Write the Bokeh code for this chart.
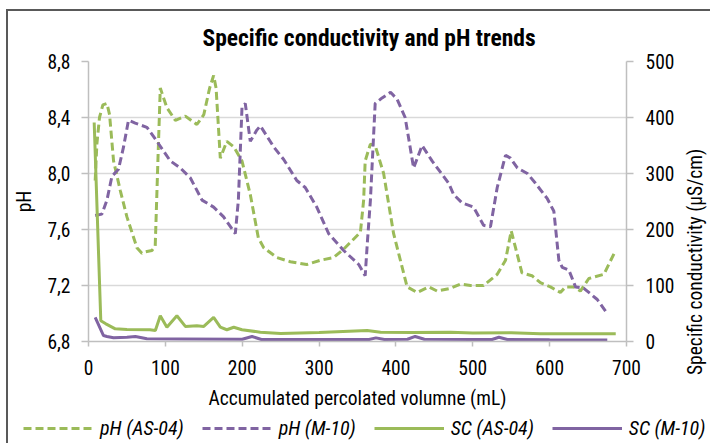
from bokeh.plotting import figure
from bokeh.models import (Range1d, LinearAxis, FixedTicker, CustomJSTickFormatter,
                          Legend, LegendItem, Title, Spacer, Div)
from bokeh.layouts import column, row
from bokeh.embed import file_html
from bokeh.resources import INLINE

# ---------------- data ----------------
title_text = "Specific conductivity and pH trends"
x_label = "Accumulated percolated volumne (mL)"
ph_label = "pH"
sc_label = "Specific conductivity (\u00b5S/cm)"

x_ticks = [0, 100, 200, 300, 400, 500, 600, 700]
ph_ticks = [6.8, 7.2, 7.6, 8.0, 8.4, 8.8]
sc_ticks = [0, 100, 200, 300, 400, 500]

ph_as04_x = [8.7, 10.9, 14.3, 18.7, 24, 27.4, 32.6, 41.3, 50, 63, 69.5, 74, 82.5, 86.8, 90.3,
             93.4, 102, 113, 126, 141, 150, 157.6, 162.8, 166, 171.5, 180, 189, 199.7, 210.5,
             221, 228, 245, 262.6, 284, 301.7, 319, 332, 353.8, 358, 360, 366.8, 373, 384, 397,
             414.6, 427.6, 442.7, 453.6, 471, 484, 497, 514, 531.8, 542.6, 550, 555.6, 564, 577,
             588, 601, 614, 620.7, 631.5, 640, 651, 670.6, 685.8]
ph_as04 = [7.95, 8.21, 8.40, 8.49, 8.50, 8.42, 8.09, 7.88, 7.69, 7.47, 7.43, 7.44, 7.45, 7.48, 8.09,
           8.61, 8.47, 8.38, 8.41, 8.35, 8.42, 8.61, 8.70, 8.61, 8.11, 8.23, 8.19, 8.09, 7.85,
           7.54, 7.47, 7.40, 7.37, 7.35, 7.38, 7.40, 7.46, 7.58, 7.81, 8.09, 8.21, 8.20, 8.00, 7.57,
           7.19, 7.15, 7.19, 7.16, 7.18, 7.21, 7.20, 7.20, 7.28, 7.38, 7.59, 7.47, 7.29, 7.27,
           7.22, 7.19, 7.15, 7.19, 7.19, 7.16, 7.25, 7.28, 7.45]

ph_m10_x = [8.7, 17.4, 24, 30.5, 39, 45.6, 52, 60.8, 76, 89, 106.4, 119.4, 132.4, 147.7, 162.8,
            175.8, 191, 195, 199.7, 204, 210.5, 219, 223.6, 241, 254, 271, 282, 297, 312.5, 332,
            351.6, 360, 363, 366.8, 373, 382, 393, 401.6, 412, 423, 434, 447, 468.7, 475, 486,
            501, 514, 523, 531.8, 542.6, 549, 558, 571, 581.6, 597, 605.5, 612, 616.4, 625,
            633.7, 644.5, 662, 675]
ph_m10 = [7.70, 7.71, 7.81, 7.98, 8.03, 8.19, 8.38, 8.36, 8.33, 8.23, 8.09, 8.04, 7.97, 7.81, 7.76,
          7.69, 7.57, 7.81, 8.47, 8.50, 8.23, 8.31, 8.34, 8.19, 8.10, 7.95, 7.90, 7.76, 7.57, 7.45,
          7.35, 7.27, 7.52, 7.81, 8.50, 8.54, 8.58, 8.53, 8.40, 8.04, 8.20, 8.09, 7.93, 7.85, 7.79,
          7.76, 7.63, 7.62, 7.90, 8.13, 8.11, 8.04, 8.00, 7.93, 7.82, 7.73, 7.38, 7.33, 7.31,
          7.19, 7.18, 7.10, 7.00]

sc_as04_x = [7.4, 16, 22, 34.8, 50, 80, 87, 93.4, 102, 115, 126, 141, 150, 162.8, 171.5, 180, 189,
             199.7, 223.6, 250, 300, 362.5, 380, 420, 471, 500, 550, 588, 640, 686]
sc_as04 = [391, 37, 32, 22.6, 21.4, 21, 19.6, 46, 25.5, 46, 27, 28, 27, 43, 25.5, 21, 25.5,
           21, 16.6, 14.5, 16, 19.6, 16.5, 16, 16.6, 15, 15.5, 13.7, 14, 13.7]

sc_m10_x = [8.7, 19.5, 24, 32.6, 50, 61, 76, 120, 200, 212.8, 225, 300, 365, 374, 385, 415, 425,
            437, 500, 525, 534, 545, 600, 675]
sc_m10 = [43, 10.7, 9, 6.6, 7.7, 9, 4.8, 4.5, 4, 9, 3.5, 3.5, 3.5, 6.5, 3.5, 4, 9,
          4, 3.5, 3.5, 7.6, 3.5, 3, 2.5]

series_names = ["pH (AS-04)", "pH (M-10)", "SC (AS-04)", "SC (M-10)"]

# ---------------- style ----------------
GREEN = "#9BBB59"
PURPLE = "#8064A2"
AXIS_GRAY = "#BFBFBF"
GRID_GRAY = "#D9D9D9"
BORDER = "#595959"
FONT = "'Roboto Condensed', 'Liberation Sans Narrow', 'Arial Narrow', sans-serif"
DASH = "8 4"

# ---------------- main chart ----------------
p = figure(width=676, height=402, output_backend="svg", toolbar_location=None,
           x_range=Range1d(0, 700), y_range=Range1d(6.8, 8.8),
           min_border_left=80, min_border_right=58, min_border_top=50, min_border_bottom=72)
p.extra_y_ranges = {"sc": Range1d(0, 500)}
p.outline_line_color = None
p.background_fill_color = "white"
p.border_fill_color = "white"

p.title = Title(text=title_text, align="left", offset=114, standoff=20, text_font=FONT,
                text_font_size="23.5px", text_font_style="bold", text_color="#000000")

r1 = p.line(ph_as04_x, ph_as04, line_color=GREEN, line_width=3, line_dash=DASH)
r2 = p.line(ph_m10_x, ph_m10, line_color=PURPLE, line_width=3, line_dash=DASH)
r3 = p.line(sc_as04_x, sc_as04, line_color=GREEN, line_width=3, y_range_name="sc")
r4 = p.line(sc_m10_x, sc_m10, line_color=PURPLE, line_width=3, y_range_name="sc")

p.xgrid.visible = False
p.ygrid.ticker = FixedTicker(ticks=ph_ticks)
p.ygrid.grid_line_color = GRID_GRAY
p.ygrid.grid_line_width = 1.5


def style_axis(ax):
    ax.axis_line_color = AXIS_GRAY
    ax.axis_line_width = 1.5
    ax.major_tick_line_color = AXIS_GRAY
    ax.major_tick_line_width = 1.5
    ax.major_tick_in = 0
    ax.minor_tick_line_color = None
    ax.major_label_text_font = FONT
    ax.major_label_text_font_size = "19.5px"
    ax.major_label_text_color = "#000000"
    ax.axis_label_text_font = FONT
    ax.axis_label_text_font_size = "19.5px"
    ax.axis_label_text_font_style = "normal"
    ax.axis_label_text_color = "#000000"


xa = p.xaxis[0]
style_axis(xa)
xa.ticker = FixedTicker(ticks=x_ticks)
xa.major_tick_out = 5
xa.major_label_standoff = 13
xa.axis_label = x_label
xa.axis_label_standoff = 9

ya = p.yaxis[0]
style_axis(ya)
ya.ticker = FixedTicker(ticks=ph_ticks)
ya.formatter = CustomJSTickFormatter(code="return tick.toFixed(1).replace('.', ',');")
ya.major_tick_out = 7
ya.major_label_standoff = 11
ya.axis_label = ph_label
ya.axis_label_standoff = 8

ra = LinearAxis(y_range_name="sc", ticker=FixedTicker(ticks=sc_ticks))
style_axis(ra)
ra.major_tick_out = 7
ra.major_label_standoff = 12
p.add_layout(ra, "right")

# right axis title, reading bottom-to-top
right_title = Div(text=sc_label, width=26, height=402, margin=0,
                  styles={"writing-mode": "vertical-rl", "transform": "rotate(180deg)",
                          "font-family": FONT, "font-size": "19.5px", "color": "#000000",
                          "padding-top": "38px", "box-sizing": "border-box",
                          "line-height": "24px", "white-space": "nowrap",
                          "background-color": "white"})

# ---------------- legend strip ----------------
pl = figure(width=702, height=30, output_backend="svg", toolbar_location=None,
            x_range=Range1d(0, 702), y_range=Range1d(1000, 1030),
            x_axis_type=None, y_axis_type=None,
            min_border_left=0, min_border_right=0, min_border_top=0, min_border_bottom=0)
pl.outline_line_color = None
pl.grid.visible = False
pl.background_fill_color = "white"
pl.border_fill_color = "white"
k1 = pl.line(ph_as04_x, ph_as04, line_color=GREEN, line_width=3, line_dash=DASH)
k2 = pl.line(ph_m10_x, ph_m10, line_color=PURPLE, line_width=3, line_dash=DASH)
k3 = pl.line(sc_as04_x, sc_as04, line_color=GREEN, line_width=3)
k4 = pl.line(sc_m10_x, sc_m10, line_color=PURPLE, line_width=3)

legend = Legend(items=[LegendItem(label=series_names[0], renderers=[k1]),
                       LegendItem(label=series_names[1], renderers=[k2]),
                       LegendItem(label=series_names[2], renderers=[k3]),
                       LegendItem(label=series_names[3], renderers=[k4])],
                orientation="horizontal", location=(15, 3),
                glyph_width=70, glyph_height=20, label_standoff=7, spacing=18,
                padding=0, margin=0, border_line_color=None, background_fill_alpha=0,
                label_text_font=FONT, label_text_font_size="20px",
                label_text_font_style="italic", label_text_color="#000000")
pl.add_layout(legend, "center")

# ---------------- outer border (top and left edges) ----------------
top_band = Spacer(width=710, height=9)
top_line = row(Spacer(width=6, height=2),
               Spacer(width=704, height=2, styles={"background-color": BORDER}))
body = row(Spacer(width=6, height=402),
           Spacer(width=2, height=402, styles={"background-color": BORDER}),
           p, right_title)
legend_row = row(Spacer(width=6, height=30),
                 Spacer(width=2, height=30, styles={"background-color": BORDER}),
                 pl)
layout = column(top_band, top_line, body, legend_row)

open("out.html", "w").write(file_html(layout, INLINE))
